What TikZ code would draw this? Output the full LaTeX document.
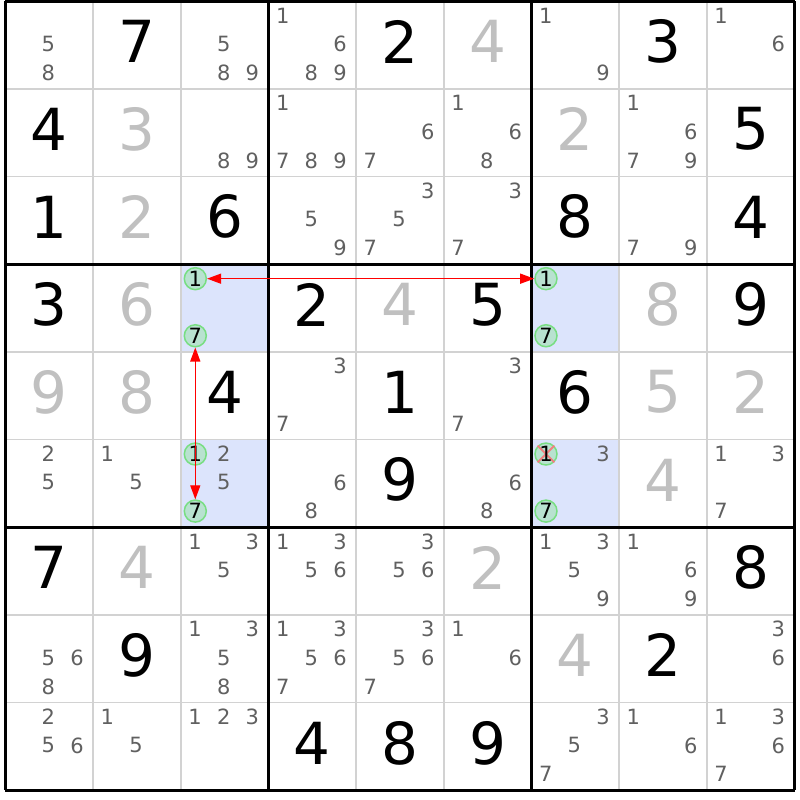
\documentclass[tikz,border=0pt]{standalone}
\usepackage{fontspec}
\setmainfont{DejaVu Sans}
\usetikzlibrary{arrows.meta}

\definecolor{gridgray}{RGB}{210,210,210}
\definecolor{solvedgray}{RGB}{192,192,192}
\definecolor{candgray}{RGB}{96,96,96}
\definecolor{hlblue}{RGB}{220,228,252}
\definecolor{pickline}{RGB}{120,222,130}
\definecolor{pickfill}{RGB}{184,226,208}
\definecolor{crossred}{RGB}{240,128,128}

\begin{document}
\begin{tikzpicture}[x=87.67pt,y=-87.67pt,
  given/.style={inner sep=0pt,font=\fontsize{58}{58}\selectfont,text=black},
  solved/.style={given,text=solvedgray},
  cand/.style={inner sep=0pt,font=\fontsize{21}{21}\selectfont,text=candgray},
  pick/.style={circle,draw=pickline,fill=pickfill,line width=1.5pt,minimum size=22pt,inner sep=0pt,font=\fontsize{21}{21}\selectfont,text=black},
  link/.style={red,line width=1.3pt,{Triangle[length=14pt,width=10pt]}-{Triangle[length=14pt,width=10pt]}}]
\useasboundingbox (-5.5pt,1.2pt) rectangle (794.5pt,-798.8pt);

% highlighted cells
\fill[hlblue] (2,3) rectangle (3,4);
\fill[hlblue] (6,3) rectangle (7,4);
\fill[hlblue] (2,5) rectangle (3,6);
\fill[hlblue] (6,5) rectangle (7,6);

% grid
\foreach \i in {1,2,4,5,7,8} {
  \draw[gridgray,line width=1.6pt] (\i,0) -- (\i,9);
  \draw[gridgray,line width=1.6pt] (0,\i) -- (9,\i);
}
\foreach \i in {0,3,6,9} {
  \draw[black,line width=3pt] (\i,0) -- (\i,9);
  \draw[black,line width=3pt] (0,\i) -- (9,\i);
}

% big digits
\foreach \r/\c/\d in {1/2/7,1/5/2,1/8/3,2/1/4,2/9/5,3/1/1,3/3/6,3/7/8,3/9/4,4/1/3,4/4/2,4/6/5,4/9/9,
  5/3/4,5/5/1,5/7/6,6/5/9,7/1/7,7/9/8,8/2/9,8/8/2,9/4/4,9/5/8,9/6/9}
  \node [given] (r\r c\c) at (\c-0.5,\r-0.54) {\d};
\foreach \r/\c/\d in {1/6/4,2/2/3,2/7/2,3/2/2,4/2/6,4/5/4,4/8/8,5/1/9,5/2/8,5/8/5,5/9/2,6/8/4,7/2/4,7/6/2,8/7/4}
  \node [solved] (r\r c\c) at (\c-0.5,\r-0.54) {\d};

% candidates
\foreach \r/\c/\ds in {1/1/{5,8},1/3/{5,8,9},1/4/{1,6,8,9},1/7/{1,9},1/9/{1,6},
  2/3/{8,9},2/4/{1,7,8,9},2/5/{6,7},2/6/{1,6,8},2/8/{1,6,7,9},
  3/4/{5,9},3/5/{3,5,7},3/6/{3,7},3/8/{7,9},
  5/4/{3,7},5/6/{3,7},
  6/1/{2,5},6/2/{1,5},6/3/{2,5},6/4/{6,8},6/6/{6,8},6/7/{3},6/9/{1,3,7},
  7/3/{1,3,5},7/4/{1,3,5,6},7/5/{3,5,6},7/7/{1,3,5,9},7/8/{1,6,9},
  8/1/{5,6,8},8/3/{1,3,5,8},8/4/{1,3,5,6,7},8/5/{3,5,6,7},8/6/{1,6},8/9/{3,6},
  9/1/{2,5,6},9/2/{1,5},9/3/{1,2,3},9/7/{3,5,7},9/8/{1,6},9/9/{1,3,6,7}}
  \foreach \d in \ds
    \node [cand] (r\r c\c-\d) at ({\c-1+0.162+0.327*mod(\d-1,3)},{\r-1+0.162+0.327*int((\d-1)/3)}) {\d};

% chain cells
\node [pick] (r4c3-1) at (2.165,3.165) {1};
\node [pick] (r4c3-7) at (2.165,3.816) {7};
\node [pick] (r4c7-1) at (6.165,3.165) {1};
\node [pick] (r4c7-7) at (6.165,3.816) {7};
\node [pick] (r6c3-1) at (2.165,5.165) {1};
\node [pick] (r6c3-7) at (2.165,5.816) {7};
\node [pick] (r6c7-7) at (6.165,5.816) {7};
\node [pick] (r6c7-1) at (6.165,5.165) {};
\draw[crossred,line width=2pt] (r6c7-1.north west) -- (r6c7-1.south east);
\draw[crossred,line width=2pt] (r6c7-1.north east) -- (r6c7-1.south west);
\node [cand,text=black] (r6c7-1t) at (r6c7-1) {1};

\draw[link] (r4c3-1) -- (r4c7-1);
\draw[link] (r4c3-7) -- (r6c3-7);
\end{tikzpicture}
\end{document}
